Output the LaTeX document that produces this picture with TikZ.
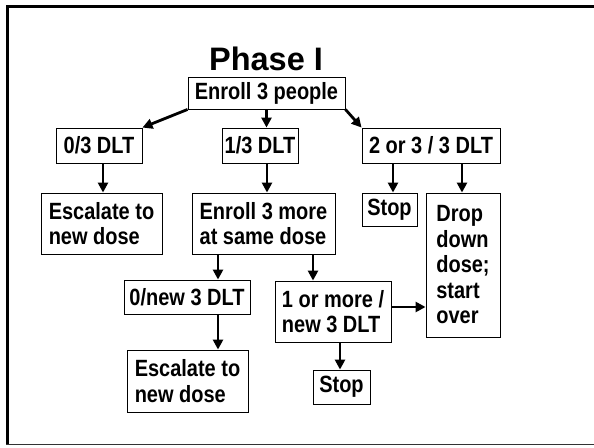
\documentclass[tikz,border=0pt]{standalone}
\usepackage{fontspec}
\setmainfont{Liberation Sans}
\newfontfamily\boxfont[FakeStretch=0.85]{Liberation Sans}
\usetikzlibrary{arrows.meta}
\begin{document}
\begin{tikzpicture}[x=1pt,y=-1pt,
  box/.style={draw, line width=0.9pt, inner sep=0pt, font=\boxfont\fontsize{23.5}{25.5}\selectfont\bfseries, align=left},
  arr/.style={line width=2.8pt, -{Triangle[length=10pt,width=10pt]}}]
\useasboundingbox (0,0) rectangle (594,447);
\draw[line width=3pt] (600,6.5) -- (7.5,6.5) -- (7.5,444.5);
\draw[line width=1.2pt, black!80] (6,444.8) -- (600,444.8);
\node[font=\fontsize{32.5}{36}\selectfont\bfseries, anchor=base, inner sep=0pt] (title) at (266,70) {Phase I};
\node[box, minimum width=157pt, minimum height=32pt] (enroll) at (266.5,93) {Enroll 3 people};
\node[box, minimum width=86pt, minimum height=35pt] (d0) at (99,145.5) {0/3 DLT};
\node[box, minimum width=76pt, minimum height=35pt] (d1) at (260,145.5) {1/3 DLT};
\node[box, minimum width=138pt, minimum height=35pt] (d23) at (431,145.5) {2 or 3 / 3 DLT};
\node[box, minimum width=121pt, minimum height=61pt] (esc1) at (101.5,223.5) {Escalate to\\new dose};
\node[box, minimum width=143pt, minimum height=61pt] (more) at (263.5,223.5) {Enroll 3 more\\at same dose};
\node[box, minimum width=55pt, minimum height=33pt] (stop1) at (389.5,209.5) {Stop};
\node[box, minimum width=74pt, minimum height=144pt] (drop) at (463,265) {Drop\\down\\dose;\\start\\over};
\node[box, minimum width=126pt, minimum height=34pt] (new0) at (187,297) {0/new 3 DLT};
\node[box, minimum width=116pt, minimum height=61pt] (new1) at (333,311.5) {1 or more /\\new 3 DLT};
\node[box, minimum width=121pt, minimum height=62pt] (esc2) at (187.5,381) {Escalate to\\new dose};
\node[box, minimum width=57pt, minimum height=34pt] (stop2) at (341.5,387) {Stop};
% arrows
\draw[arr] (enroll.south west) -- (d0.north east);
\draw[arr] (enroll.south) -- (enroll.south |- d1.north);
\draw[arr] (enroll.south east) -- (d23.north west);
\draw[arr] (d0.south -| 103,0) -- (esc1.north -| 103,0);
\draw[arr] (d1.south -| 267,0) -- (more.north -| 267,0);
\draw[arr] (d23.south -| 393,0) -- (stop1.north -| 393,0);
\draw[arr] (d23.south -| 462,0) -- (drop.north -| 462,0);
\draw[arr] (more.south -| 218,0) -- (new0.north -| 218,0);
\draw[arr] (more.south -| 313,0) -- (new1.north -| 313,0);
\draw[arr] (new0.south -| 218,0) -- (esc2.north -| 218,0);
\draw[arr] (new1.south -| 340,0) -- (stop2.north -| 340,0);
\draw[arr] (new1.east |- 0,307) -- (drop.west |- 0,307);
\end{tikzpicture}
\end{document}
